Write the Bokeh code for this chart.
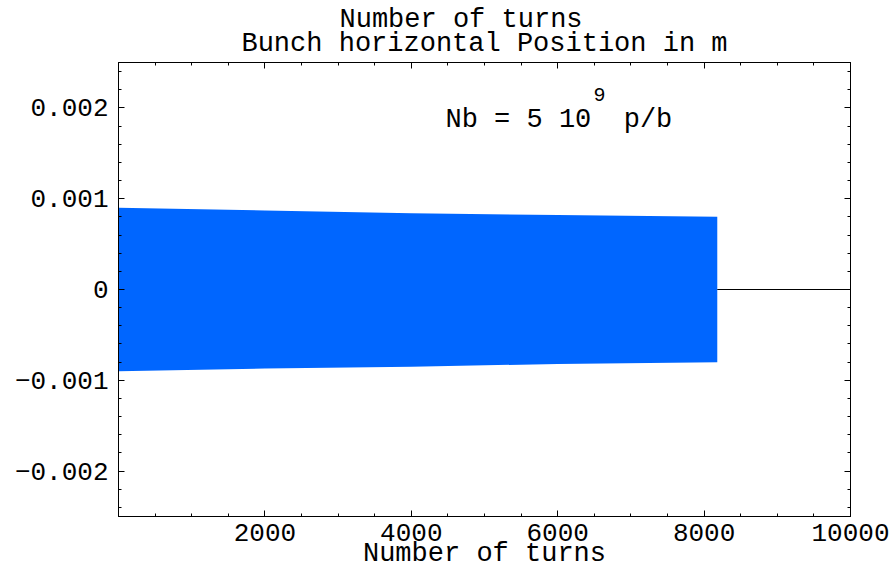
from bokeh.plotting import figure
from bokeh.models import FixedTicker, LinearAxis, Label, Range1d, Title
from bokeh.layouts import column
from bokeh.core.properties import value
from bokeh.embed import file_html
from bokeh.resources import INLINE

# ---- data ----
turns_env = [0, 2000, 4000, 6000, 8180]
upper_env = [0.00090, 0.00087, 0.00084, 0.00082, 0.00080]
lower_env = [-0.00090, -0.00087, -0.00085, -0.00082, -0.00080]
tail_turns = [8180, 10000]
tail_pos = [0.0, 0.0]

x_major = [2000, 4000, 6000, 8000, 10000]
x_minor = [500 * i for i in range(0, 21)]
y_major = [-0.002, -0.001, 0.0, 0.001, 0.002]
y_major_labels = ["\u22120.002", "\u22120.001", "0", "0.001", "0.002"]
y_minor = [round(-0.0024 + 0.0002 * i, 4) for i in range(0, 25)]

# remnants of the tick labels of the chart above (cut off at the top of the picture)
prev_tick_labels = ["2000", "4000", "6000", "8000", "10000"]
prev_tick_pos = [1571, 3620, 5601, 7623, 9631]

FONT = "Liberation Mono"
FS_TICK = "26px"
FS = "27px"
NB = "\u00a0"

W = 889
TOP_H = 3
MAIN_H = 571 - TOP_H
BL, BR = 118, 39

# ---- thin strip: only a sliver of the previous chart's tick labels shows ----
top = figure(width=W, height=TOP_H, output_backend="svg", toolbar_location=None,
             x_range=Range1d(0, 10000), y_range=Range1d(0, TOP_H),
             min_border_left=BL, min_border_right=BR, min_border_top=0,
             min_border_bottom=0, x_axis_location=None, y_axis_location=None)
top.grid.visible = False
top.outline_line_color = None
top.text(x=prev_tick_pos, y=[TOP_H * 0.97] * len(prev_tick_pos), text=prev_tick_labels,
         text_font=value(FONT), text_font_size=value("25px"), text_align="center",
         text_baseline="alphabetic", text_color="black")

# ---- main chart ----
p0 = figure(width=W, height=MAIN_H, output_backend="svg", toolbar_location=None,
            x_range=Range1d(0, 10000), y_range=Range1d(-0.0025, 0.0025),
            min_border_left=BL, min_border_right=BR, min_border_top=62 - TOP_H,
            min_border_bottom=10, x_axis_location=None, y_axis_location=None)
p0.grid.visible = False
p0.outline_line_color = "black"
p0.outline_line_width = 1
p0.background_fill_color = "white"
p0.border_fill_color = "white"

p0.varea(x=turns_env, y1=lower_env, y2=upper_env, fill_color="#0066ff", fill_alpha=1.0)
p0.line(x=tail_turns, y=tail_pos, line_color="black", line_width=1)

def style(ax, labels=True):
    ax.axis_line_color = "black"
    ax.major_tick_line_color = "black"
    ax.minor_tick_line_color = "black"
    ax.major_tick_in = 6
    ax.major_tick_out = 0
    ax.minor_tick_in = 3
    ax.minor_tick_out = 0
    ax.major_label_text_font = FONT
    ax.major_label_text_color = "black"
    ax.major_label_text_font_size = FS_TICK
    if not labels:
        ax.major_label_overrides = {v: "" for v in ax.ticker.ticks}
        ax.major_label_standoff = 0

xb = LinearAxis(ticker=FixedTicker(ticks=x_major, minor_ticks=x_minor))
style(xb)
xb.major_label_standoff = 7
xb.axis_label = "Number of turns"
xb.axis_label_text_font = FONT
xb.axis_label_text_font_size = FS
xb.axis_label_text_font_style = "normal"
xb.axis_label_text_color = "black"
xb.axis_label_standoff = -5
p0.add_layout(xb, "below")

xt = LinearAxis(ticker=FixedTicker(ticks=x_major, minor_ticks=x_minor))
style(xt, labels=False)
p0.add_layout(xt, "above")

yl = LinearAxis(ticker=FixedTicker(ticks=y_major, minor_ticks=y_minor))
style(yl)
yl.major_label_overrides = {v: s for v, s in zip(y_major, y_major_labels)}
yl.major_label_standoff = 10
p0.add_layout(yl, "left")

yr = LinearAxis(ticker=FixedTicker(ticks=y_major, minor_ticks=y_minor))
style(yr, labels=False)
p0.add_layout(yr, "right")

t1 = Title(text="Bunch horizontal Position in m", align="center", text_font=FONT,
           text_font_size=FS, text_font_style="normal", text_color="black", standoff=8)
p0.add_layout(t1, "above")
t2 = Title(text="Number of turns", align="left", offset=221, text_font=FONT,
           text_font_size=FS, text_font_style="normal", text_color="black", standoff=-25)
p0.add_layout(t2, "above")

# annotation inside the frame
p0.add_layout(Label(x=4467, y=0.00187, text="Nb = 5 10" + NB + NB + "p/b", text_font=FONT,
                    text_font_size=FS, text_color="black", text_align="left",
                    text_baseline="alphabetic"))
p0.add_layout(Label(x=6571, y=0.00215, text="9", text_font=FONT, text_font_size="20px",
                    text_color="black", text_align="center", text_baseline="alphabetic"))

p = column(top, p0, spacing=0)

open("out.html", "w").write(file_html(p, INLINE))
